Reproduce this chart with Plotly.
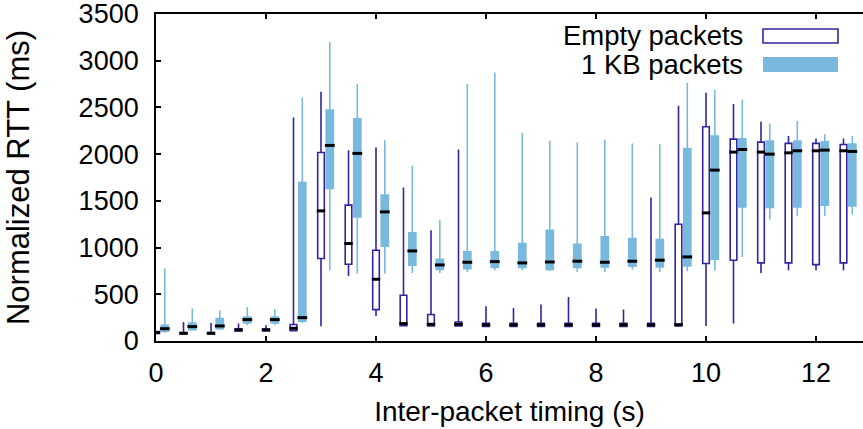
import plotly.graph_objects as go

# ---- data ----
positions = [0, 0.5, 1, 1.5, 2, 2.5, 3, 3.5, 4, 4.5, 5, 5.5, 6, 6.5, 7, 7.5,
             8, 8.5, 9, 9.5, 10, 10.5, 11, 11.5, 12, 12.5]

empty_low = [75, 75, 75, 105, 108, 104, 157, 697, 268, 161, 157, 157, 150, 150, 150, 150,
             150, 150, 150, 157, 161, 186, 729, 757, 757, 757]
empty_q1 = [80, 78, 78, 108, 110, 111, 883, 822, 336, 165, 161, 160, 155, 155, 155, 155,
            155, 155, 155, 161, 829, 865, 836, 836, 818, 836]
empty_med = [90, 82, 82, 118, 118, 136, 1393, 1043, 661, 186, 179, 179, 172, 172, 172, 172,
             172, 172, 172, 175, 1371, 2022, 2022, 2014, 2036, 2036]
empty_q3 = [100, 90, 90, 130, 130, 176, 2018, 1454, 972, 490, 283, 204, 190, 190, 190, 190,
            190, 190, 190, 1250, 2293, 2161, 2129, 2115, 2115, 2104]
empty_high = [110, 204, 193, 186, 168, 2393, 2668, 2043, 2072, 1643, 1186, 2050, 372, 354, 390, 472,
              347, 336, 1536, 2518, 2657, 2536, 2346, 2193, 2168, 2168]

kb_low = [86, 111, 118, 168, 175, 193, 757, 722, 722, 729, 729, 739, 757, 757, 750, 739,
          739, 764, 739, 747, 757, 900, 1300, 1339, 1339, 1354]
kb_q1 = [104, 122, 132, 193, 193, 211, 1633, 1329, 1015, 811, 765, 775, 786, 786, 765, 786,
         793, 800, 793, 804, 875, 1436, 1429, 1436, 1454, 1446]
kb_med = [132, 154, 161, 229, 229, 250, 2093, 2008, 1382, 964, 814, 843, 850, 836, 846, 854,
          843, 854, 865, 900, 1829, 2050, 2000, 2036, 2043, 2029]
kb_q3 = [168, 193, 240, 257, 257, 1697, 2472, 2379, 1561, 1157, 875, 954, 954, 1043, 1186, 1036,
         1114, 1097, 1086, 2061, 2193, 2164, 2140, 2140, 2132, 2107]
kb_high = [775, 347, 329, 365, 340, 2607, 3197, 2757, 2150, 1875, 1293, 2750, 2875, 2229, 2143, 2125,
           2158, 2115, 2107, 2764, 2686, 2586, 2329, 2357, 2214, 2193]

series_names = ["Empty packets", "1 KB packets"]
x_ticks = [0, 2, 4, 6, 8, 10, 12]
y_ticks = [0, 500, 1000, 1500, 2000, 2500, 3000, 3500]

# ---- style ----
EMPTY_COL = "#34249f"
KB_COL = "#79b9dd"
KB_OFFSET = 0.16
FONT = "Liberation Sans, Arial, Helvetica, sans-serif"
FS = 27

W, H = 863, 429
L, R, T, B = 156, 0, 14, 88
pw, ph = W - L - R, H - T - B

kb_x = [p + KB_OFFSET for p in positions]

fig = go.Figure()
fig.add_trace(go.Box(
    x=positions, q1=empty_q1, median=empty_med, q3=empty_q3,
    lowerfence=empty_low, upperfence=empty_high,
    width=0.12, whiskerwidth=0, boxpoints=False,
    fillcolor="white", line=dict(color=EMPTY_COL, width=1.6),
    name=series_names[0], showlegend=False, hoverinfo="skip"))
fig.add_trace(go.Box(
    x=kb_x, q1=kb_q1, median=kb_med, q3=kb_q3,
    lowerfence=kb_low, upperfence=kb_high,
    width=0.13, whiskerwidth=0, boxpoints=False,
    fillcolor=KB_COL, line=dict(color=KB_COL, width=1.6),
    name=series_names[1], showlegend=False, hoverinfo="skip"))
# black median ticks
fig.add_trace(go.Scatter(
    x=positions, y=empty_med, mode="markers", showlegend=False, hoverinfo="skip",
    marker=dict(symbol="line-ew", size=6, line=dict(color="black", width=3))))
fig.add_trace(go.Scatter(
    x=kb_x, y=kb_med, mode="markers", showlegend=False, hoverinfo="skip",
    marker=dict(symbol="line-ew", size=7, line=dict(color="black", width=3))))

def px2paper(px, py):
    return (px - L) / pw, (H - B - py) / ph

# legend (text right, sample on the right)
shapes = []
annotations = []
lx0, lx1 = 763, 838
for i, (name, y0, y1) in enumerate([(series_names[0], 29, 43), (series_names[1], 57, 72)]):
    ax0, ay0 = px2paper(lx0, y1)
    ax1, ay1 = px2paper(lx1, y0)
    if i == 0:
        shapes.append(dict(type="rect", xref="paper", yref="paper", x0=ax0, x1=ax1, y0=ay0, y1=ay1,
                           fillcolor="white", line=dict(color=EMPTY_COL, width=1.6)))
    else:
        shapes.append(dict(type="rect", xref="paper", yref="paper", x0=ax0, x1=ax1, y0=ay0, y1=ay1,
                           fillcolor=KB_COL, line=dict(color=KB_COL, width=0)))
    tx, ty = px2paper(745, (y0 + y1) / 2)
    annotations.append(dict(text=name, xref="paper", yref="paper", x=tx, y=ty,
                            xanchor="right", yanchor="middle", showarrow=False,
                            font=dict(family=FONT, size=27.5, color="black")))

fig.update_layout(
    width=W, height=H,
    margin=dict(l=L, r=R, t=T, b=B, pad=0, autoexpand=False),
    paper_bgcolor="white", plot_bgcolor="white",
    boxmode="overlay",
    font=dict(family=FONT, size=FS, color="black"),
    shapes=shapes, annotations=annotations,
    xaxis=dict(range=[0, (W - L) / 55.0], tickvals=x_ticks, ticktext=[str(v) for v in x_ticks],
               ticks="inside", ticklen=5, tickwidth=1.5, tickcolor="black",
               showline=True, linecolor="black", linewidth=1.8, mirror="ticks",
               showgrid=False, zeroline=False, ticklabelstandoff=7,
               ticklabeloverflow="allow",
               title=dict(text="Inter-packet timing (s)", standoff=14,
                          font=dict(family=FONT, size=28))),
    yaxis=dict(range=[0, 3500], tickvals=y_ticks, ticktext=[str(v) for v in y_ticks],
               ticks="inside", ticklen=5, tickwidth=1.5, tickcolor="black",
               showline=True, linecolor="black", linewidth=1.8, mirror=False,
               showgrid=False, zeroline=False, ticklabelstandoff=10,
               ticklabeloverflow="allow",
               title=dict(text="Normalized RTT (ms)", standoff=40,
                          font=dict(family=FONT, size=31))),
)

fig.write_html("out.html", config={"displayModeBar": False},
               post_script="document.body.style.margin='0';")
